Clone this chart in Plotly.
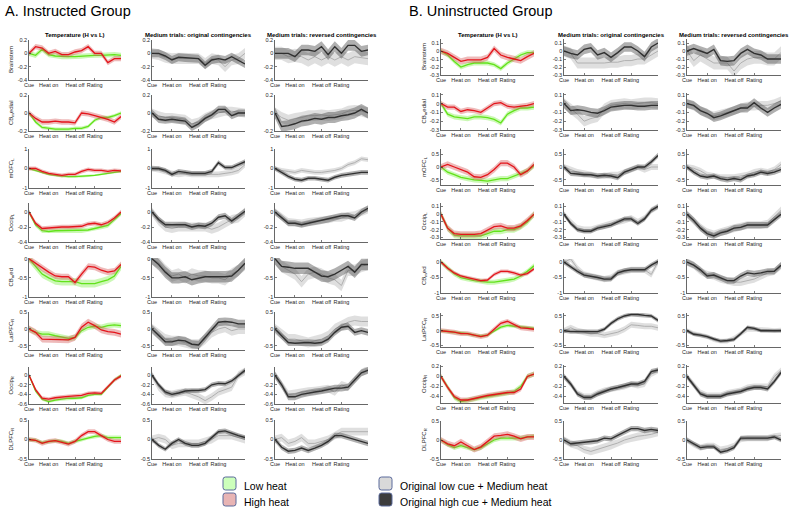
import plotly.graph_objects as go

W, H = 789, 508

# ---------------- data ----------------
time = list(range(15))
tick_vals = [0, 3, 7, 10]
tick_text = ["Cue", "Heat on", "Heat off", "Rating"]
regions = ["Brainstem", "CB<sub>m</sub>edial", "mOFC<sub>L</sub>", "Occip<sub>L</sub>",
           "CB<sub>m</sub>ed", "LatPFC<sub>R</sub>", "Occip<sub>R</sub>", "DLPFC<sub>R</sub>"]
col_titles = ["Temperature (H vs L)", "Medium trials: original contingencies",
              "Medium trials: reversed contingencies"]
group_titles = ["A. Instructed Group", "B. Uninstructed Group"]
legend_labels = ["Low heat", "High heat", "Original low cue + Medium heat",
                 "Original high cue + Medium heat"]

# ---- Group A (Instructed) ----
A_high = [
    [0, 0.1, 0.08, 0.0, 0.03, -0.02, -0.02, 0.02, 0.04, 0.1, 0.0, 0.0, -0.14, -0.08, -0.08],
    [0, -0.06, -0.1, -0.1, -0.09, -0.1, -0.1, -0.11, 0.0, -0.01, -0.03, -0.05, -0.07, -0.1, -0.04],
    [0, 0, -0.15, -0.25, -0.3, -0.35, -0.3, -0.3, -0.15, -0.05, -0.1, -0.1, -0.15, -0.1, -0.12],
    [0, -0.15, -0.22, -0.21, -0.2, -0.2, -0.2, -0.2, -0.19, -0.16, -0.15, -0.17, -0.14, -0.08, 0.0],
    [0, -0.12, -0.25, -0.35, -0.45, -0.47, -0.47, -0.62, -0.4, -0.2, -0.22, -0.3, -0.35, -0.32, -0.15],
    [0, -0.1, -0.3, -0.3, -0.32, -0.32, -0.32, -0.25, 0.05, 0.2, 0.1, -0.03, -0.08, -0.1, -0.15],
    [0, -0.3, -0.48, -0.5, -0.47, -0.45, -0.44, -0.43, -0.42, -0.38, -0.37, -0.38, -0.25, -0.1, -0.02],
    [0, -0.02, -0.1, -0.05, -0.03, -0.07, -0.12, -0.05, 0.1, 0.2, 0.2, 0.1, 0.0, -0.05, -0.05],
]
A_low = [
    [0, -0.03, 0.06, -0.02, -0.04, -0.05, -0.05, -0.05, -0.04, -0.03, -0.03, -0.03, -0.02, -0.02, -0.03],
    [0, -0.1, -0.16, -0.17, -0.18, -0.18, -0.18, -0.17, -0.17, -0.15, -0.08, -0.05, -0.05, -0.03, 0.0],
    [0, -0.1, -0.2, -0.3, -0.35, -0.4, -0.42, -0.42, -0.4, -0.38, -0.35, -0.3, -0.25, -0.2, -0.15],
    [0, -0.17, -0.25, -0.26, -0.25, -0.25, -0.25, -0.25, -0.25, -0.24, -0.22, -0.2, -0.18, -0.1, -0.02],
    [0, -0.2, -0.4, -0.5, -0.58, -0.6, -0.6, -0.6, -0.65, -0.65, -0.65, -0.6, -0.55, -0.45, -0.2],
    [0, -0.1, -0.15, -0.15, -0.2, -0.25, -0.28, -0.25, -0.05, 0.05, 0.08, 0.05, 0.1, 0.12, 0.1],
    [0, -0.33, -0.5, -0.55, -0.52, -0.5, -0.48, -0.48, -0.47, -0.42, -0.4, -0.4, -0.25, -0.1, 0.0],
    [0, -0.02, -0.08, -0.05, -0.03, -0.05, -0.1, -0.05, 0.0, 0.05, 0.08, 0.1, 0.05, 0.05, 0.05],
]
A_orig_dark = [
    [0, 0, -0.04, -0.1, -0.06, -0.07, -0.08, -0.08, -0.18, -0.1, -0.08, -0.1, -0.05, -0.1, -0.16],
    [0, -0.07, -0.08, -0.07, -0.08, -0.09, -0.16, -0.12, -0.06, -0.02, 0.04, 0.04, -0.03, 0.0, 0.0],
    [0, 0, -0.1, -0.3, -0.15, -0.2, -0.25, -0.25, -0.25, -0.15, 0.3, 0.05, 0.05, 0.2, 0.35],
    [0, -0.1, -0.17, -0.17, -0.17, -0.17, -0.2, -0.18, -0.19, -0.15, -0.07, -0.05, -0.12, -0.05, 0.01],
    [0, -0.15, -0.35, -0.5, -0.5, -0.47, -0.55, -0.5, -0.47, -0.47, -0.47, -0.47, -0.45, -0.3, -0.12],
    [0, -0.2, -0.38, -0.38, -0.33, -0.35, -0.45, -0.47, -0.25, 0.0, 0.2, 0.22, 0.2, 0.15, 0.15],
    [0, -0.2, -0.35, -0.4, -0.37, -0.33, -0.32, -0.32, -0.3, -0.2, -0.17, -0.18, -0.12, 0.0, 0.1],
    [0, -0.15, -0.25, -0.1, 0.0, -0.1, -0.15, -0.15, -0.1, 0.05, 0.2, 0.22, 0.15, 0.1, 0.05],
]
A_orig_light = [
    [0, -0.02, -0.06, -0.08, -0.07, -0.07, -0.08, -0.08, -0.15, -0.08, -0.1, -0.2, -0.1, -0.08, 0.0],
    [0, -0.03, -0.05, -0.05, -0.06, -0.07, -0.12, -0.1, -0.05, -0.02, 0.0, 0.02, 0.02, 0.01, 0.0],
    [0, -0.05, -0.15, -0.25, -0.3, -0.25, -0.3, -0.3, -0.3, -0.3, -0.3, -0.25, -0.2, -0.1, 0.2],
    [0, -0.12, -0.2, -0.22, -0.2, -0.2, -0.2, -0.2, -0.2, -0.23, -0.2, -0.15, -0.1, -0.08, 0.0],
    [0, -0.1, -0.3, -0.45, -0.4, -0.5, -0.4, -0.45, -0.45, -0.5, -0.5, -0.55, -0.4, -0.3, -0.15],
    [0, -0.15, -0.3, -0.35, -0.35, -0.4, -0.45, -0.45, -0.3, -0.1, 0.0, 0.05, -0.05, 0.0, 0.0],
    [0, -0.25, -0.38, -0.4, -0.37, -0.35, -0.4, -0.45, -0.53, -0.45, -0.35, -0.3, -0.25, 0.0, 0.08],
    [0, 0.05, 0.0, -0.15, -0.1, -0.1, -0.1, -0.1, -0.05, 0.0, 0.1, 0.1, 0.1, 0.05, 0.0],
]
A_rev_dark = [
    [0, 0.0, 0.0, -0.05, 0.05, 0.05, 0.03, 0.1, -0.02, 0.1, 0.0, 0.12, 0.12, 0.03, 0.05],
    [0, -0.15, -0.14, -0.12, -0.09, -0.08, -0.06, -0.07, -0.05, -0.05, -0.03, -0.02, 0.0, 0.04, 0.0],
    [0, -0.2, -0.4, -0.55, -0.6, -0.5, -0.5, -0.55, -0.6, -0.45, -0.35, -0.3, -0.25, -0.2, -0.2],
    [0, -0.07, -0.15, -0.15, -0.17, -0.15, -0.13, -0.12, -0.1, -0.08, -0.05, -0.05, -0.08, 0.0, 0.05],
    [0, -0.2, -0.22, -0.25, -0.25, -0.25, -0.35, -0.45, -0.47, -0.4, -0.3, -0.2, -0.35, -0.15, -0.15],
    [0, -0.2, -0.4, -0.42, -0.4, -0.4, -0.42, -0.4, -0.3, -0.1, 0.05, 0.08, -0.1, -0.05, -0.1],
    [0, -0.2, -0.45, -0.45, -0.4, -0.37, -0.35, -0.33, -0.3, -0.27, -0.27, -0.25, -0.1, 0.05, 0.1],
    [0, -0.2, -0.3, -0.28, -0.22, -0.28, -0.22, -0.15, -0.05, 0.1, 0.1, 0.05, 0.0, -0.05, -0.1],
]
A_rev_light = [
    [0, 0.0, -0.05, -0.03, -0.05, -0.1, -0.05, -0.1, -0.05, -0.1, -0.05, -0.1, -0.05, -0.06, -0.08],
    [0, -0.05, -0.08, -0.06, -0.05, -0.03, -0.03, -0.02, -0.03, -0.02, -0.01, 0.02, 0.03, 0.02, 0.0],
    [0, -0.1, -0.15, -0.2, -0.1, -0.15, -0.2, -0.2, -0.15, -0.1, 0.0, 0.2, 0.3, 0.5, 0.45],
    [0, -0.06, -0.13, -0.14, -0.15, -0.13, -0.12, -0.1, -0.1, -0.08, -0.08, -0.05, -0.04, 0.0, 0.03],
    [0, -0.2, -0.3, -0.4, -0.6, -0.4, -0.35, -0.4, -0.5, -0.55, -0.7, -0.3, -0.3, -0.2, -0.15],
    [0, -0.15, -0.3, -0.3, -0.35, -0.4, -0.35, -0.3, -0.2, 0.0, 0.1, 0.2, 0.25, 0.22, 0.22],
    [0, -0.2, -0.4, -0.38, -0.35, -0.33, -0.32, -0.3, -0.28, -0.35, -0.2, -0.25, -0.1, 0.05, 0.12],
    [0, 0.05, -0.1, -0.05, 0.05, -0.1, -0.1, -0.05, 0.0, 0.1, 0.2, 0.2, 0.2, 0.2, 0.2],
]

# ---- Group B (Uninstructed) ----
B_high = [
    [0, -0.03, -0.08, -0.13, -0.11, -0.11, -0.11, -0.08, 0.03, -0.05, -0.08, -0.1, -0.12, -0.07, -0.03],
    [0, -0.04, -0.04, -0.09, -0.07, -0.08, -0.1, -0.05, 0.0, 0.01, -0.03, -0.04, -0.03, -0.02, 0.0],
    [0, 0.1, 0.0, -0.1, -0.2, -0.38, -0.4, -0.3, -0.1, 0.15, 0.15, 0.0, -0.3, -0.15, 0.1],
    [0, -0.18, -0.25, -0.26, -0.26, -0.26, -0.25, -0.2, -0.16, -0.15, -0.18, -0.18, -0.15, -0.08, 0.0],
    [0, -0.2, -0.35, -0.45, -0.5, -0.55, -0.6, -0.58, -0.4, -0.3, -0.3, -0.35, -0.42, -0.37, -0.22],
    [0, -0.02, -0.05, -0.1, -0.1, -0.15, -0.2, -0.15, 0.05, 0.25, 0.32, 0.2, 0.1, 0.08, 0.05],
    [0, -0.22, -0.4, -0.47, -0.47, -0.44, -0.4, -0.38, -0.36, -0.34, -0.32, -0.32, -0.25, 0.0, 0.05],
    [0, -0.1, -0.15, -0.05, -0.15, -0.25, -0.18, -0.05, 0.1, 0.12, 0.15, 0.1, 0.03, 0.08, 0.08],
]
B_low = [
    [0, -0.05, -0.13, -0.2, -0.17, -0.15, -0.15, -0.15, -0.17, -0.22, -0.15, -0.1, -0.05, -0.02, -0.02],
    [0, -0.12, -0.15, -0.16, -0.17, -0.15, -0.15, -0.16, -0.18, -0.22, -0.12, -0.08, -0.05, -0.05, -0.04],
    [0, -0.2, -0.3, -0.4, -0.45, -0.5, -0.52, -0.55, -0.5, -0.45, -0.45, -0.35, -0.25, -0.15, 0.05],
    [0, -0.18, -0.27, -0.28, -0.28, -0.28, -0.28, -0.25, -0.22, -0.22, -0.2, -0.2, -0.16, -0.1, 0.0],
    [0, -0.2, -0.38, -0.5, -0.55, -0.6, -0.62, -0.65, -0.65, -0.62, -0.6, -0.55, -0.45, -0.3, -0.12],
    [0, -0.02, -0.05, -0.08, -0.1, -0.15, -0.18, -0.15, 0.0, 0.12, 0.18, 0.15, 0.12, 0.1, 0.08],
    [0, -0.2, -0.42, -0.5, -0.48, -0.45, -0.42, -0.4, -0.38, -0.35, -0.33, -0.3, -0.2, 0.0, 0.05],
    [0, -0.12, -0.2, -0.15, -0.2, -0.25, -0.2, -0.1, 0.0, 0.05, 0.05, 0.05, 0.05, 0.08, 0.1],
]
B_orig_dark = [
    [0, -0.03, -0.05, 0.02, 0.04, -0.05, -0.02, -0.08, -0.02, 0.05, 0.05, 0.0, -0.07, 0.05, 0.1],
    [0, -0.08, -0.07, -0.08, -0.1, -0.11, -0.08, -0.04, -0.03, -0.02, -0.02, -0.03, -0.03, -0.02, -0.02],
    [0, -0.25, -0.27, -0.3, -0.3, -0.35, -0.32, -0.35, -0.42, -0.2, -0.1, 0.0, 0.0, 0.2, 0.45],
    [0, -0.12, -0.2, -0.22, -0.22, -0.18, -0.16, -0.14, -0.1, -0.06, -0.06, -0.12, -0.06, 0.05, 0.1],
    [0, -0.15, -0.3, -0.42, -0.45, -0.5, -0.55, -0.55, -0.35, -0.28, -0.25, -0.25, -0.25, -0.1, 0.02],
    [0, -0.03, -0.03, -0.03, -0.05, -0.03, 0.05, 0.25, 0.4, 0.5, 0.55, 0.55, 0.52, 0.5, 0.35],
    [0, -0.15, -0.35, -0.42, -0.42, -0.35, -0.3, -0.25, -0.22, -0.18, -0.15, -0.15, -0.1, 0.1, 0.13],
    [0, -0.1, -0.08, -0.06, -0.05, -0.02, 0.05, 0.03, 0.12, 0.2, 0.3, 0.3, 0.25, 0.28, 0.25],
]
B_orig_light = [
    [0, -0.03, -0.15, -0.15, -0.15, -0.15, -0.15, -0.14, -0.14, -0.12, -0.12, -0.1, -0.1, -0.05, 0.0],
    [0, -0.06, -0.12, -0.2, -0.17, -0.15, -0.06, -0.02, -0.01, 0.0, -0.01, 0.0, 0.01, 0.01, 0.0],
    [0, -0.1, -0.2, -0.25, -0.3, -0.35, -0.35, -0.3, -0.3, -0.2, -0.1, 0.0, -0.1, 0.0, 0.0],
    [0, -0.1, -0.18, -0.2, -0.2, -0.17, -0.15, -0.12, -0.1, -0.08, -0.05, -0.1, -0.05, 0.05, 0.1],
    [0, 0.1, -0.2, -0.4, -0.45, -0.5, -0.55, -0.5, -0.35, -0.3, -0.25, -0.25, -0.25, -0.4, 0.0],
    [0, 0.1, 0.0, -0.05, -0.1, -0.1, -0.15, -0.1, -0.05, 0.05, 0.2, 0.18, 0.15, 0.15, 0.1],
    [0, -0.15, -0.33, -0.4, -0.4, -0.33, -0.28, -0.25, -0.22, -0.2, -0.15, -0.18, -0.15, 0.05, 0.12],
    [0, -0.1, -0.15, -0.25, -0.3, -0.25, -0.2, -0.15, -0.08, 0.0, 0.05, 0.1, 0.12, 0.15, 0.2],
]
B_rev_dark = [
    [0, 0.03, 0.0, -0.03, 0.02, -0.12, -0.13, -0.12, -0.03, 0.02, -0.03, -0.05, -0.1, -0.1, -0.1],
    [0, -0.02, -0.08, -0.11, -0.16, -0.14, -0.11, -0.08, -0.05, -0.05, 0.01, -0.05, -0.1, -0.05, -0.01],
    [0, -0.2, -0.35, -0.4, -0.35, -0.45, -0.5, -0.45, -0.5, -0.35, -0.3, -0.2, -0.25, -0.2, -0.1],
    [0, -0.08, -0.18, -0.25, -0.28, -0.24, -0.22, -0.18, -0.17, -0.14, -0.14, -0.14, -0.14, -0.07, 0.0],
    [0, -0.1, -0.25, -0.45, -0.42, -0.5, -0.6, -0.6, -0.45, -0.35, -0.38, -0.35, -0.3, -0.3, -0.1],
    [0, -0.12, -0.15, -0.2, -0.28, -0.35, -0.33, -0.3, -0.1, 0.12, 0.08, 0.0, 0.0, 0.0, 0.0],
    [0, -0.18, -0.35, -0.4, -0.4, -0.4, -0.35, -0.33, -0.3, -0.25, -0.22, -0.22, -0.25, -0.1, 0.08],
    [0, -0.1, -0.2, -0.18, -0.18, -0.32, -0.28, -0.2, 0.05, 0.05, 0.05, 0.05, 0.05, 0.08, 0.0],
]
B_rev_light = [
    [0, -0.12, -0.05, -0.1, -0.15, -0.15, -0.15, -0.25, -0.15, -0.1, -0.08, -0.08, -0.1, -0.1, -0.02],
    [0, -0.03, -0.08, -0.12, -0.14, -0.12, -0.1, -0.08, -0.05, -0.03, -0.03, -0.02, -0.02, 0.0, 0.03],
    [0, -0.05, -0.15, -0.3, -0.35, -0.4, -0.4, -0.4, -0.35, -0.3, -0.2, -0.15, -0.2, -0.1, 0.1],
    [0, -0.08, -0.17, -0.23, -0.26, -0.23, -0.2, -0.18, -0.16, -0.14, -0.14, -0.14, -0.12, -0.03, 0.05],
    [0, -0.1, -0.3, -0.4, -0.45, -0.55, -0.6, -0.65, -0.65, -0.6, -0.55, -0.45, -0.35, -0.3, -0.12],
    [0, -0.1, -0.15, -0.2, -0.3, -0.35, -0.35, -0.25, -0.1, 0.05, 0.05, 0.05, 0.03, 0.0, 0.02],
    [0, -0.15, -0.32, -0.38, -0.38, -0.38, -0.33, -0.3, -0.28, -0.22, -0.2, -0.2, -0.2, 0.0, 0.12],
    [0, -0.12, -0.2, -0.15, -0.15, -0.25, -0.22, -0.15, 0.02, 0.05, 0.05, 0.05, 0.05, 0.1, 0.12],
]

# standard-error half-widths of the shaded bands (one per region)
A_se_high = [0.04, 0.03, 0.1, 0.03, 0.08, 0.1, 0.04, 0.06]
A_se_low = [0.04, 0.02, 0.06, 0.03, 0.1, 0.08, 0.03, 0.05]
A_se_orig_dark = [0.06, 0.04, 0.12, 0.04, 0.15, 0.12, 0.05, 0.06]
A_se_orig_light = [0.08, 0.05, 0.15, 0.06, 0.15, 0.15, 0.08, 0.1]
A_se_rev_dark = [0.08, 0.06, 0.12, 0.04, 0.15, 0.1, 0.07, 0.07]
A_se_rev_light = [0.1, 0.06, 0.12, 0.05, 0.15, 0.15, 0.08, 0.1]
B_se_high = [0.04, 0.03, 0.12, 0.04, 0.06, 0.08, 0.05, 0.08]
B_se_low = [0.03, 0.03, 0.1, 0.04, 0.08, 0.06, 0.05, 0.06]
B_se_orig_dark = [0.06, 0.05, 0.1, 0.03, 0.08, 0.07, 0.05, 0.07]
B_se_orig_light = [0.07, 0.06, 0.12, 0.04, 0.1, 0.1, 0.06, 0.1]
B_se_rev_dark = [0.06, 0.05, 0.1, 0.04, 0.1, 0.06, 0.05, 0.06]
B_se_rev_light = [0.08, 0.05, 0.12, 0.05, 0.12, 0.08, 0.06, 0.08]

# y-axis ranges / ticks per region
A_yrange = [[-0.4, 0.2], [-0.2, 0.2], [-1, 1], [-0.4, 0.12], [-1, 0.02], [-0.62, 0.5], [-0.6, 0.17], [-0.5, 0.5]]
A_yticks = [[-0.4, -0.2, 0, 0.2], [-0.2, 0, 0.2], [-1, 0, 1], [-0.4, -0.2, 0], [-1, -0.5, 0],
            [-0.5, 0, 0.5], [-0.6, -0.4, -0.2, 0], [-0.5, 0, 0.5]]
B_yrange = [[-0.3, 0.15], [-0.3, 0.12], [-0.7, 0.7], [-0.32, 0.145], [-1, 0.1], [-0.55, 0.6], [-0.53, 0.23], [-0.5, 0.5]]
B_yticks = [[-0.3, -0.2, -0.1, 0, 0.1], [-0.3, -0.2, -0.1, 0, 0.1], [-0.5, 0, 0.5],
            [-0.3, -0.2, -0.1, 0, 0.1], [-1, -0.5, 0], [-0.5, 0, 0.5], [-0.4, -0.2, 0, 0.2], [-0.5, 0, 0.5]]

# ---------------- layout geometry (pixels) ----------------
col_px = {"A": [(29, 121), (152, 245), (275, 368)], "B": [(441, 534), (564, 658), (687, 781)]}
row_px = {"A": [(40, 80), (95, 131), (149, 188), (203, 242), (258, 297), (312, 350), (367, 404), (420, 459)],
          "B": [(39, 75), (93, 130), (149, 185), (203, 239), (259, 293), (313, 347), (365, 403), (421, 459)]}
ylab_x = {"A": 11, "B": 424}
title_x = {"A": 3, "B": 407}

GREEN_LINE, GREEN_FILL = "#62e21a", "rgba(140,240,90,0.45)"
RED_LINE, RED_FILL = "#e4141b", "rgba(215,90,90,0.42)"
DARK_LINE, DARK_FILL = "#303030", "rgba(80,80,80,0.45)"
LIGHT_LINE, LIGHT_FILL = "#b0b0b0", "rgba(185,185,185,0.45)"
FONT = "Liberation Sans, Arial, sans-serif"
AXC = "#262626"


def px_x(p):
    return p / W


def px_y(p):
    return 1 - p / H


def fmt(v):
    return f"{v:g}"


groups = {
    "A": [(A_low, A_se_low, A_high, A_se_high),
          (A_orig_light, A_se_orig_light, A_orig_dark, A_se_orig_dark),
          (A_rev_light, A_se_rev_light, A_rev_dark, A_se_rev_dark)],
    "B": [(B_low, B_se_low, B_high, B_se_high),
          (B_orig_light, B_se_orig_light, B_orig_dark, B_se_orig_dark),
          (B_rev_light, B_se_rev_light, B_rev_dark, B_se_rev_dark)],
}
yranges = {"A": A_yrange, "B": B_yrange}
yticks = {"A": A_yticks, "B": B_yticks}

fig = go.Figure()
layout = {}
annotations = []
shapes = []
n = 0


def band(x, m, se):
    up = [v + se for v in m]
    lo = [v - se for v in m]
    return x + x[::-1], up + lo[::-1]


for g in ["A", "B"]:
    for c in range(3):
        s1, se1, s2, se2 = groups[g][c]
        if c == 0:
            styles = [(GREEN_LINE, GREEN_FILL, 1.3), (RED_LINE, RED_FILL, 1.3)]
        else:
            styles = [(LIGHT_LINE, LIGHT_FILL, 1.0), (DARK_LINE, DARK_FILL, 1.4)]
        for r in range(8):
            n += 1
            xa = "x" if n == 1 else f"x{n}"
            ya = "y" if n == 1 else f"y{n}"
            for (series, se), (lc, fc, lw) in zip([(s1, se1), (s2, se2)], styles):
                bx, by = band(time, series[r], se[r])
                fig.add_trace(go.Scatter(x=bx, y=by, xaxis=xa, yaxis=ya, mode="lines",
                                         fill="toself", fillcolor=fc, line=dict(width=0),
                                         hoverinfo="skip", showlegend=False))
                fig.add_trace(go.Scatter(x=time, y=series[r], xaxis=xa, yaxis=ya, mode="lines",
                                         line=dict(color=lc, width=lw), showlegend=False))
            x0, x1 = col_px[g][c]
            y0, y1 = row_px[g][r]
            common = dict(ticks="inside", ticklen=2, tickcolor=AXC, tickwidth=0.6,
                          showline=True, linecolor=AXC, linewidth=0.7, showgrid=False,
                          zeroline=False, automargin=False, fixedrange=True,
                          tickfont=dict(size=5.5, color=AXC, family=FONT))
            layout["xaxis" if n == 1 else f"xaxis{n}"] = dict(
                domain=[px_x(x0), px_x(x1)], anchor=ya, range=[0, 14], tickangle=0,
                tickvals=tick_vals, ticktext=tick_text, **common)
            layout["yaxis" if n == 1 else f"yaxis{n}"] = dict(
                domain=[px_y(y1), px_y(y0)], anchor=xa, range=yranges[g][r],
                tickvals=yticks[g][r], ticktext=[fmt(v) for v in yticks[g][r]], **common)
            if c == 0:
                annotations.append(dict(x=px_x(ylab_x[g]), y=px_y((y0 + y1) / 2), xref="paper",
                                        yref="paper", text=regions[r], textangle=-90,
                                        xanchor="center", yanchor="middle",
                                        showarrow=False, font=dict(size=6, color=AXC, family=FONT)))
            if r == 0:
                annotations.append(dict(x=px_x((x0 + x1) / 2), y=px_y(35), xref="paper", yref="paper",
                                        xanchor="center", yanchor="middle",
                                        text=f"<b>{col_titles[c]}</b>", showarrow=False,
                                        font=dict(size=6, color="black", family=FONT)))
    annotations.append(dict(x=px_x(title_x[g]), y=px_y(11), xref="paper", yref="paper",
                            xanchor="left", yanchor="middle",
                            text=group_titles[0 if g == "A" else 1], showarrow=False,
                            font=dict(size=14.5, color="black", family=FONT)))

# legend (drawn manually)
legend_pos = [(223, 477), (223, 493), (379, 477), (379, 493)]
box_fill = ["#ccffbb", "#e8b4b4", "#d9d9d9", "#3c3c3c"]
for (bx, by), fillc, lab in zip(legend_pos, box_fill, legend_labels):
    w, h, rad = 13, 13, 2.5
    rx, ry = rad / W, rad / H
    X0, X1 = px_x(bx), px_x(bx + w)
    Y0, Y1 = px_y(by + h), px_y(by)
    path = (f"M {X0 + rx},{Y0} L {X1 - rx},{Y0} Q {X1},{Y0} {X1},{Y0 + ry} "
            f"L {X1},{Y1 - ry} Q {X1},{Y1} {X1 - rx},{Y1} L {X0 + rx},{Y1} "
            f"Q {X0},{Y1} {X0},{Y1 - ry} L {X0},{Y0 + ry} Q {X0},{Y0} {X0 + rx},{Y0} Z")
    shapes.append(dict(type="path", path=path, xref="paper", yref="paper",
                       fillcolor=fillc, line=dict(color="#5b6a9c", width=1)))
    annotations.append(dict(x=px_x(bx + 19), y=px_y(by + 8.5), xref="paper", yref="paper",
                            xanchor="left", yanchor="middle", text=lab, showarrow=False,
                            font=dict(size=10.5, color="black", family=FONT)))

fig.update_layout(**layout)
fig.update_layout(template="none", width=W, height=H, margin=dict(l=0, r=0, t=0, b=0, pad=0),
                  paper_bgcolor="white", plot_bgcolor="white",
                  annotations=annotations, shapes=shapes, showlegend=False)
fig.write_html("out.html", config={"staticPlot": True},
               post_script="document.body.style.margin='0px';document.body.style.overflow='hidden';")
